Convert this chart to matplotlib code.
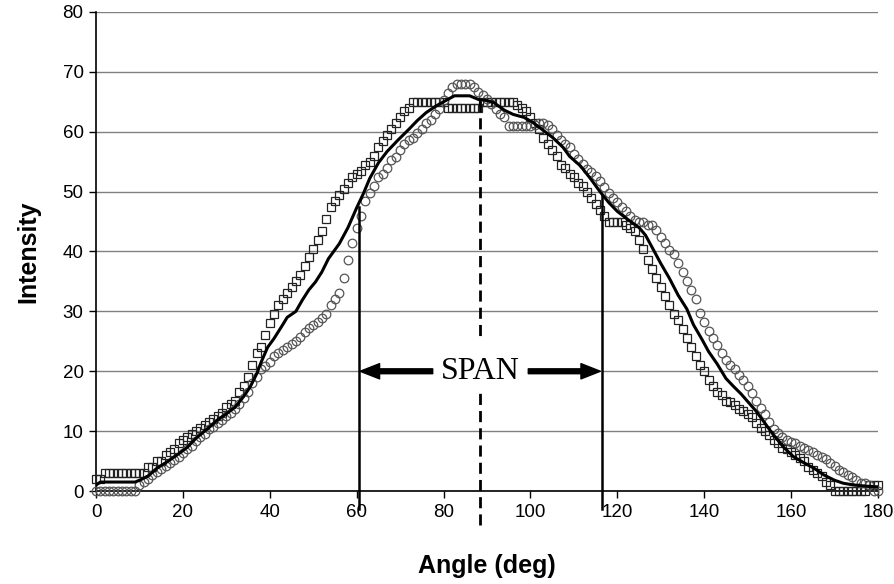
import numpy as np
import matplotlib.pyplot as plt
from matplotlib.patches import Rectangle

# angle grid for the two measured series (1 deg steps)
angle = np.arange(0, 181)

squares = [2, 2, 3, 3, 3, 3, 3, 3, 3, 3,
           3, 3, 4, 4, 5, 5, 6, 6.5, 7, 8,
           8.5, 9, 9.5, 10, 10.5, 11, 11.5, 12, 12.5, 13,
           14, 14.5, 15, 16.5, 17.5, 19, 21, 23, 24, 26,
           28, 29.5, 31, 32, 33, 34, 35, 36, 37.5, 39,
           40.5, 42, 43.5, 45.5, 47.5, 48.5, 49.5, 50.5, 51.5, 52.5,
           53, 53.5, 54.5, 55, 56, 57.5, 58.5, 59.5, 60.5, 61.5,
           62.5, 63.5, 64, 65, 65, 65, 65, 65, 65, 65,
           65, 64, 64, 64, 64, 64, 64, 64, 64, 65,
           65, 65, 65, 65, 65, 65, 65, 64.5, 64, 63.5,
           62.5, 61.5, 60.5, 59, 58, 57, 56, 54.5, 54, 53,
           52.5, 51.5, 51, 50, 49, 48, 47, 46, 45, 45,
           45, 45, 44.5, 44, 43.5, 42, 40.5, 38.5, 37, 35.5,
           34, 32.5, 31, 29.5, 28.5, 27, 25.5, 24, 22.5, 21,
           20, 18.5, 17.5, 16.5, 16, 15, 14.8, 14.3, 13.7, 13.3,
           12.8, 12.3, 11.3, 10.5, 10, 9.3, 8.5, 8, 7.2, 7,
           6.5, 6, 5.5, 5, 4, 3.5, 3, 2.5, 1.5, 1,
           0, 0, 0, 0, 0, 0, 0, 0, 1, 1,
           1]

circles = [0, 0, 0, 0, 0, 0, 0, 0, 0, 0,
           1, 1.5, 2, 2.7, 3.2, 3.7, 4.2, 4.6, 5.2, 5.7,
           6.3, 7, 7.5, 8.3, 9, 9.6, 10.3, 10.7, 11.3, 11.8,
           12.5, 13, 13.7, 14.5, 15.5, 16.6, 18, 19, 20.3, 20.8,
           21.5, 22.5, 23, 23.5, 24, 24.6, 25, 25.7, 26.5, 27.2,
           27.8, 28.3, 28.9, 29.6, 31, 32, 33, 35.5, 38.5, 41.5,
           44, 46, 48.5, 49.8, 51, 52.5, 53, 54, 55.3, 55.8,
           57, 58, 58.6, 59, 59.8, 60.5, 61.4, 62, 63, 63.8,
           65.3, 66.5, 67.5, 68, 68, 68, 68, 67.5, 66.7, 66.1,
           65.5, 64.6, 63.8, 63, 62.4, 61, 61, 61, 61, 61,
           61, 61.2, 61.4, 61.4, 61.1, 60.5, 59.5, 58.6, 58, 57.4,
           56.3, 55.5, 54.6, 53.8, 53.3, 52.6, 51.8, 50.8, 49.8, 49,
           48.3, 47.5, 46.7, 46, 45.3, 45, 45, 44.4, 44.4, 43.6,
           42.5, 41.4, 40.3, 39.5, 38, 36.5, 35, 33.6, 32, 29.8,
           28.3, 26.8, 25.6, 24.4, 23, 21.8, 21.1, 20.4, 19.4, 18.5,
           17.6, 16.3, 15, 13.8, 12.8, 11.5, 10.4, 9.7, 9, 8.5,
           8.2, 8, 7.6, 7.2, 6.8, 6.5, 6, 5.6, 5.3, 4.7,
           4.1, 3.5, 3.1, 2.7, 2.3, 1.8, 1.4, 1.3, 1, 0,
           0]

# average curve
line_x = [0, 1, 9, 10, 12, 14, 16, 19, 21, 23, 26, 28, 30, 32, 34, 35.5,
          37, 38, 39.5, 41, 43, 44, 46, 47.5, 49, 50.5, 52, 53.5, 56, 58,
          60, 61.5, 63, 65, 67, 69.5, 72, 74, 76, 78.5, 81, 82.5, 86, 88,
          90, 91.5, 94, 96, 98.5, 100.5, 103, 105, 107.5, 109, 111.5, 114,
          116, 118, 120, 122.5, 125, 126.5, 128, 130, 132, 134, 136, 137.5,
          139.5, 141, 143, 145, 146.7, 148.5, 150.3, 152, 153.7, 156, 158.3,
          160.6, 163, 165.3, 167.5, 170, 172, 174.5, 177.5, 180]
line_y = [1, 1.5, 1.5, 1.8, 2.5, 3.8, 4.7, 6.2, 7.3, 8.8, 10.6, 11.9, 12.9,
          14, 15.8, 17.4, 19.6, 21.5, 24, 25.5, 27.8, 29, 30, 31.9, 33.6,
          34.9, 36.6, 38.8, 41.3, 44, 47.3, 49.6, 52.2, 54.8, 56.7, 58.6,
          60.4, 61.9, 63.2, 64.4, 65.4, 66, 66, 65.4, 65.2, 64.9, 63.6, 62.9,
          62.4, 61.6, 60.2, 59.1, 57.4, 55.9, 54.3, 52, 50, 48.2, 46.7, 45.3,
          44, 42.7, 40.7, 38, 35.5, 32.7, 30.4, 27.8, 25.3, 23.3, 21.2, 18.8,
          17.5, 16.2, 14.7, 13.3, 11.6, 9.3, 7.3, 5.7, 4.7, 3.8, 2.7, 1.8,
          1.3, 1, 0.8, 0.7]

# span markers
span_left, span_left_top = 60.5, 47.4
span_right, span_right_top = 116.4, 49.4
centre, centre_top = 88.5, 65.8

plt.rcParams['font.family'] = ['Liberation Sans', 'DejaVu Sans']

fig = plt.figure(figsize=(8.94, 5.84), dpi=100)
ax = fig.add_axes([0.1074, 0.1592, 0.8747, 0.8203])

ax.set_xlim(0, 180)
ax.set_ylim(0, 80)
ax.set_xticks(np.arange(0, 181, 20))
ax.set_yticks(np.arange(0, 81, 10))
ax.yaxis.grid(True, color='#808080', linewidth=1)
ax.set_axisbelow(True)
for s in ['top', 'right']:
    ax.spines[s].set_visible(False)
for s in ['left', 'bottom']:
    ax.spines[s].set_linewidth(1.2)
ax.tick_params(direction='out', length=5, width=1, labelsize=13.5, pad=4)

ax.plot(angle, squares, 's', mfc='none', mec='#222222', ms=5.6, mew=0.9,
        clip_on=False, zorder=3)
ax.plot(angle, circles, 'o', mfc='none', mec='#555555', ms=6.2, mew=0.9,
        clip_on=False, zorder=3)
ax.plot(line_x, line_y, '-', color='black', lw=2.2, zorder=4)

# white box behind the SPAN label
ax.add_patch(Rectangle((span_left, 16.5), span_right - span_left, 9,
                       facecolor='white', edgecolor='none', zorder=5))

ax.plot([span_left, span_left], [-3, span_left_top], color='black', lw=1.8,
        clip_on=False, zorder=6)
ax.plot([span_right, span_right], [-3, span_right_top], color='black', lw=1.8,
        clip_on=False, zorder=6)
ax.plot([centre, centre], [-5.7, centre_top], color='black', lw=2,
        linestyle=(0, (4, 2.2)), clip_on=False, zorder=4.5)

arrow = dict(facecolor='black', edgecolor='black', width=3.5, headwidth=11,
             headlength=14, shrink=0)
ax.annotate('', xy=(span_left + 0.3, 20), xytext=(77.5, 20),
            arrowprops=arrow, zorder=7)
ax.annotate('', xy=(span_right - 0.3, 20), xytext=(99.5, 20),
            arrowprops=arrow, zorder=7)
ax.text(88.5, 20, 'SPAN', family='Liberation Serif', fontsize=23,
        ha='center', va='center', zorder=7)

ax.set_xlabel('Angle (deg)', fontsize=18, fontweight='bold', labelpad=24)
ax.set_ylabel('Intensity', fontsize=18, fontweight='bold', labelpad=16)

fig.savefig('out.png', dpi=100)
